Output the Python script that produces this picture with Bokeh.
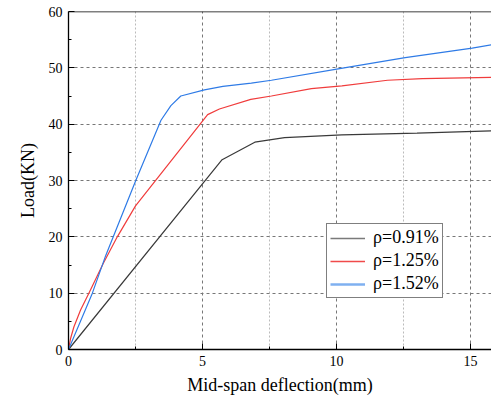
from bokeh.plotting import figure
from bokeh.models import Range1d, Legend, LegendItem, FixedTicker, Span
from bokeh.embed import file_html
from bokeh.resources import INLINE

# data
black_x = [0, 5.73, 6.95, 8.06, 10.2, 13.0, 15.8]
black_y = [0, 33.7, 36.8, 37.6, 38.1, 38.4, 38.8]
red_x = [0, 0.08, 0.2, 0.45, 0.76, 1.3, 1.82, 2.5, 5.19, 5.63, 6.8, 7.57, 9.06, 10.2, 11.9, 13.2, 15.8]
red_y = [0, 2.0, 4.0, 7.0, 10.0, 15.3, 20.0, 25.5, 41.7, 42.7, 44.4, 45.0, 46.3, 46.8, 47.8, 48.1, 48.3]
blue_x = [0, 0.89, 1.39, 2.2, 2.51, 3.45, 3.82, 4.19, 5.07, 5.76, 6.82, 7.57, 10.06, 12.56, 15.06, 15.8]
blue_y = [0, 10.0, 16.7, 26.3, 30.0, 40.7, 43.3, 45.0, 46.1, 46.7, 47.3, 47.8, 49.8, 51.8, 53.5, 54.1]
labels = ["ρ=0.91%", "ρ=1.25%", "ρ=1.52%"]
x_ticks = [0, 5, 10, 15]
y_ticks = [0, 10, 20, 30, 40, 50, 60]

FONT = "Liberation Serif"

p = figure(width=491, height=401, output_backend="svg", toolbar_location=None,
           x_range=Range1d(0, 15.78), y_range=Range1d(0, 60),
           min_border_left=68, min_border_right=0, min_border_top=11, min_border_bottom=52)
p.outline_line_color = None
p.background_fill_color = "white"
p.border_fill_color = "white"

# grids
p.xgrid.ticker = FixedTicker(ticks=x_ticks, minor_ticks=[2.5, 7.5, 12.5])
p.ygrid.ticker = FixedTicker(ticks=y_ticks)
for g in (p.xgrid, p.ygrid):
    g.grid_line_color = "#777777"
    g.grid_line_dash = "3 3"
    g.grid_line_width = 1
p.xgrid.minor_grid_line_color = "#bbbbbb"
p.xgrid.minor_grid_line_dash = "2 2"

# axes
p.xaxis.ticker = FixedTicker(ticks=x_ticks, minor_ticks=[2.5, 7.5, 12.5])
p.yaxis.ticker = FixedTicker(ticks=y_ticks, minor_ticks=[5, 15, 25, 35, 45, 55])
for ax in (p.xaxis, p.yaxis):
    ax.axis_line_color = "black"
    ax.axis_line_width = 1.3
    ax.major_tick_in = 6
    ax.major_tick_out = 0
    ax.minor_tick_in = 3
    ax.minor_tick_out = 0
    ax.major_tick_line_color = "black"
    ax.minor_tick_line_color = "black"
    ax.major_label_text_font = FONT
    ax.major_label_text_font_size = "14px"
    ax.major_label_text_color = "black"
    ax.axis_label_text_font = FONT
    ax.axis_label_text_font_size = "18px"
    ax.axis_label_text_font_style = "normal"
    ax.axis_label_text_color = "black"
p.xaxis.axis_label = "Mid-span deflection(mm)"
p.yaxis.axis_label = "Load(KN)"
p.xaxis.major_label_standoff = 6
p.xaxis.axis_label_standoff = 6
p.yaxis.major_label_standoff = 6
p.yaxis.axis_label_standoff = 8

# top border line
p.add_layout(Span(location=60, dimension="width", line_color="black", line_width=1.3))

# curves
p.line(black_x, black_y, line_color="#3a3a3a", line_width=1.2)
p.line(red_x, red_y, line_color="#f03c3c", line_width=1.2)
p.line(blue_x, blue_y, line_color="#2f7be6", line_width=1.2)

# legend proxies (drawn outside the visible range)
off_x = [-10, -9]
off_y = [-10, -10]
r1 = p.line(off_x, off_y, line_color="#7a7a7a", line_width=1.5)
r2 = p.line(off_x, off_y, line_color="#f04a4a", line_width=1.3)
r3 = p.line(off_x, off_y, line_color="#7fb0f0", line_width=2.5)

legend = Legend(items=[LegendItem(label=labels[0], renderers=[r1]),
                       LegendItem(label=labels[1], renderers=[r2]),
                       LegendItem(label=labels[2], renderers=[r3])],
                location=(258, 51))
legend.label_text_font = FONT
legend.label_text_font_size = "18px"
legend.label_text_color = "black"
legend.label_height = 20
legend.glyph_height = 20
legend.glyph_width = 35
legend.label_standoff = 8
legend.spacing = 2
legend.padding = 3
legend.margin = 0
legend.border_line_color = "black"
legend.border_line_width = 1.3
legend.background_fill_alpha = 1.0
p.add_layout(legend, "center")

open("out.html", "w").write(file_html(p, INLINE))
